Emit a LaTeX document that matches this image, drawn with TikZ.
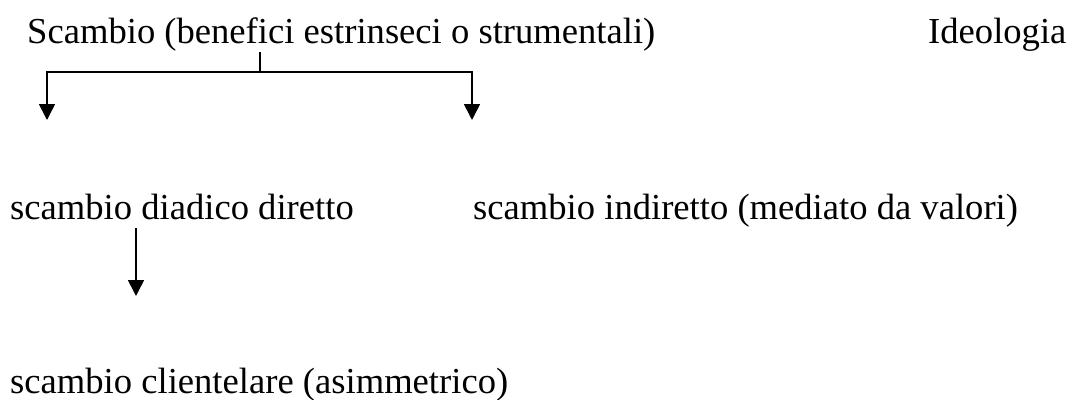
\documentclass[tikz,border=0pt]{standalone}
\usepackage{fontspec}
\setmainfont{Liberation Serif}
\usetikzlibrary{arrows.meta}
\begin{document}
\begin{tikzpicture}[x=1pt,y=-1pt,
  label text/.style={anchor=base west,inner sep=0pt,font=\fontsize{36.6}{40}\selectfont},
  link/.style={line width=1.7pt},
  pointer/.style={line width=1.7pt,-{Triangle[length=16pt,width=16pt]}}]
\useasboundingbox (0,0) rectangle (1068,399);
% labels
\node[label text] (root) at (27,43) {Scambio (benefici estrinseci o strumentali)};
\node[label text] (ideo) at (928,43) {Ideologia};
\node[label text] (diad) at (10,219) {scambio diadico diretto};
\node[label text] (indir) at (473,219) {scambio indiretto (mediato da valori)};
\node[label text] (clien) at (10,393) {scambio clientelare (asimmetrico)};
% branching bracket below the top label
\coordinate (stem top) at (260,52);
\coordinate (stem foot) at (260,72);
\coordinate (left corner) at (47,72);
\coordinate (right corner) at (472,72);
\coordinate (left tip) at (47,120);
\coordinate (right tip) at (472,120);
\draw[link] (stem top) -- (stem foot);
\draw[link,line cap=rect] (left corner) -- (right corner);
\draw[pointer] (left corner) -- (left tip);
\draw[pointer] (right corner) -- (right tip);
% arrow below the direct exchange
\coordinate (sub top) at (136,228);
\coordinate (sub tip) at (136,296);
\draw[pointer] (sub top) -- (sub tip);
\end{tikzpicture}
\end{document}
